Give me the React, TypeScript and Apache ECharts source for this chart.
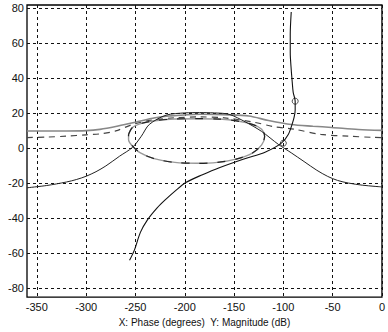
import React, { useEffect, useRef } from "react";
import * as echarts from "echarts";

const phaseTicks = [-350, -300, -250, -200, -150, -100, -50, 0];
const magTicks = [-80, -60, -40, -20, 0, 20, 40, 60, 80];

// open-loop response (phase in degrees, magnitude in dB)
const openPhase = [-92, -93, -93, -92, -91, -90, -88, -88, -89, -91, -95, -102, -118, -140, -165, -182, -199, -209, -219, -228, -238, -245, -251, -256];
const openMag = [78, 65, 55, 45, 38, 32, 27, 22, 18, 14, 8, 3, -2, -6, -11, -15, -19.5, -24, -29, -34, -41, -48, -58, -64];

// arch contour
const archPhase = [-360, -340, -320, -310, -300, -290, -280, -266, -253, -244, -236, -219, -200, -185, -170, -155, -138, -122, -105, -92, -79, -66, -55, -45, -34, -20, -7, 0];
const archMag = [-22.5, -21.2, -19.2, -17.8, -15.9, -13.3, -10, -4.4, 0.6, 7, 13.7, 19, 20.3, 20.5, 20.3, 19.5, 15, 9.7, 2.3, -2.5, -7.5, -12.5, -16, -18.3, -19.8, -21, -21.7, -22];

// solid upper contour
const solidPhase = [-360, -320, -300, -286, -270, -250, -230, -216, -185, -155, -135, -115, -92, -70, -51, -24, 0];
const solidMag = [10, 10, 10.2, 10.9, 12.5, 15, 17.5, 18.5, 19.5, 19.2, 18.5, 16, 13.7, 12.7, 12, 10.8, 10.3];

// dashed upper contour
const dashPhase = [-360, -340, -320, -300, -286, -270, -253, -235, -210, -185, -160, -130, -110, -88, -62, -34, -8, 0];
const dashMag = [6.2, 6.5, 7, 7.8, 8.3, 10, 13.7, 16, 17.5, 18, 17.5, 15, 12.5, 10.9, 8, 7, 6.3, 6.2];

// closed contour around -180
const loopPhase = [-257, -253, -243, -228, -210, -188, -165, -145, -130, -122, -119, -122, -131, -147, -167, -188, -210, -230, -245, -254, -257, -257];
const loopMag = [8, 12, 14.5, 16, 16.8, 17, 16.8, 15.5, 13.5, 11, 7, 2, -2.5, -6, -8, -8.5, -8, -6, -2.5, 2, 5, 8];

// marked points
const markPhase = [-88, -100];
const markMag = [27, 3];

const zip = (a: number[], b: number[]) => a.map((v, i) => [v, b[i]]);

export default function App() {
  const ref = useRef<HTMLDivElement>(null);
  useEffect(() => {
    if (!ref.current) return;
    const chart = echarts.init(ref.current, null, { renderer: "svg" });
    const labelFont = "'Liberation Sans Narrow', 'Liberation Sans', Arial, sans-serif";
    chart.setOption({
      animation: false,
      backgroundColor: "#fff",
      grid: {
        left: 27,
        right: 3,
        top: 5,
        bottom: 33,
        show: true,
        borderColor: "#000",
        borderWidth: 1.3,
      },
      xAxis: {
        type: "value",
        min: -360,
        max: 0,
        name: "X: Phase (degrees)  Y: Magnitude (dB)",
        nameLocation: "middle",
        nameGap: 17,
        nameTextStyle: { fontSize: 10, color: "#111", fontFamily: "'Liberation Sans', Arial, sans-serif" },
        axisLine: { show: false },
        axisTick: { show: false, customValues: phaseTicks },
        axisLabel: {
          customValues: phaseTicks,
          fontSize: 11,
          color: "#111",
          margin: 4,
          fontFamily: labelFont,
        },
        splitLine: {
          show: true,
          lineStyle: { color: "#111", type: [3, 3], width: 1 },
        },
      },
      yAxis: {
        type: "value",
        min: -85,
        max: 82,
        axisLine: { show: false },
        axisTick: { show: false, customValues: magTicks },
        axisLabel: {
          customValues: magTicks,
          fontSize: 11,
          color: "#111",
          margin: 3,
          fontFamily: labelFont,
        },
        splitLine: {
          show: true,
          lineStyle: { color: "#111", type: [3, 3], width: 1 },
        },
      },
      series: [
        {
          type: "line",
          data: zip(solidPhase, solidMag),
          showSymbol: false,
          smooth: 0.3,
          lineStyle: { color: "#888", width: 1.6 },
        },
        {
          type: "line",
          data: zip(dashPhase, dashMag),
          showSymbol: false,
          smooth: 0.3,
          lineStyle: { color: "#444", width: 1.2, type: [6, 5] },
        },
        {
          type: "line",
          data: zip(loopPhase, loopMag),
          showSymbol: false,
          smooth: 0.3,
          lineStyle: { color: "#999", width: 1.4 },
        },
        {
          type: "line",
          data: zip(loopPhase, loopMag),
          showSymbol: false,
          smooth: 0.3,
          lineStyle: { color: "#222", width: 1.2, type: [8, 10] },
        },
        {
          type: "line",
          data: zip(archPhase, archMag),
          showSymbol: false,
          smooth: 0.3,
          lineStyle: { color: "#222", width: 1 },
        },
        {
          type: "line",
          data: zip(openPhase, openMag),
          showSymbol: false,
          smooth: 0.3,
          lineStyle: { color: "#111", width: 1.1 },
        },
        {
          type: "scatter",
          data: zip(markPhase, markMag),
          symbol: "circle",
          symbolSize: 6,
          itemStyle: { color: "transparent", borderColor: "#222", borderWidth: 1 },
        },
      ],
    });
    return () => chart.dispose();
  }, []);
  return (
    <div
      ref={ref}
      style={{ position: "fixed", left: 0, top: 0, width: 388, height: 332 }}
    />
  );
}
